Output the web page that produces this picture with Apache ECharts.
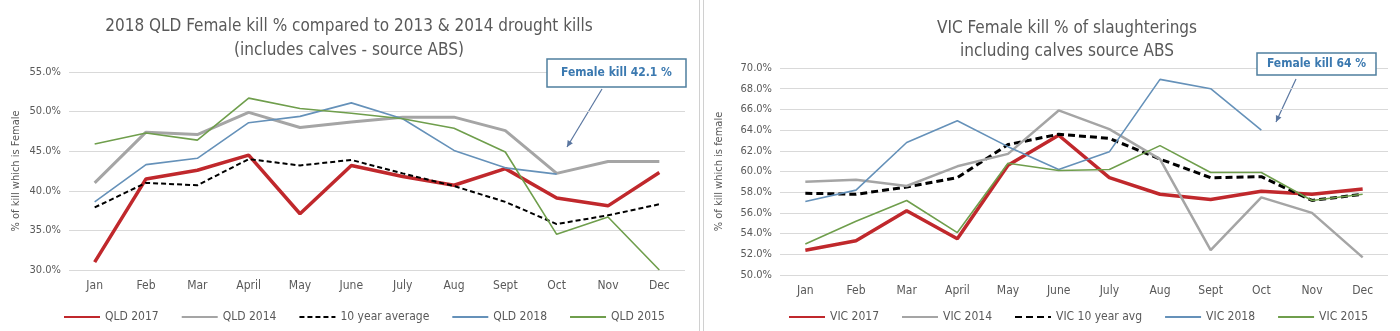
<!DOCTYPE html>
<html><head><meta charset="utf-8">
<script src="https://cdn.jsdelivr.net/npm/echarts@6/dist/echarts.min.js"></script>
<style>html,body{margin:0;padding:0;background:#fff}#c{width:1400px;height:331px}</style>
</head><body><div id="c"></div>
<script>
const months = ['Jan','Feb','Mar','April','May','June','July','Aug','Sept','Oct','Nov','Dec'];
// QLD chart
const qld2017 = [31.0,41.5,42.6,44.5,37.1,43.2,41.8,40.7,42.8,39.1,38.1,42.3];
const qld2014 = [41.0,47.4,47.1,49.9,48.0,48.7,49.3,49.3,47.6,42.2,43.7,43.7];
const qld10yr = [37.9,41.0,40.7,44.0,43.2,43.9,42.2,40.6,38.6,35.8,36.9,38.3];
const qld2018 = [38.6,43.3,44.1,48.6,49.4,51.1,49.1,45.1,42.9,42.1,null,null];
const qld2015 = [45.9,47.3,46.4,51.7,50.4,49.8,49.1,47.9,44.9,34.5,36.7,30.0];
// VIC chart
const vic2017 = [52.4,53.3,56.2,53.5,60.6,63.5,59.4,57.8,57.3,58.1,57.8,58.3];
const vic2014 = [59.0,59.2,58.6,60.5,61.7,65.9,64.1,61.2,52.4,57.5,56.0,51.7];
const vic10yr = [57.9,57.8,58.5,59.4,62.6,63.6,63.2,61.2,59.4,59.5,57.2,57.8];
const vic2018 = [57.1,58.2,62.8,64.9,62.4,60.2,61.9,68.9,68.0,64.0,null,null];
const vic2015 = [53.0,55.2,57.2,54.1,60.8,60.1,60.2,62.5,59.9,59.9,57.2,57.8];
const qldTitle = '2018 QLD Female kill % compared to 2013 & 2014 drought kills\n(includes calves - source ABS)';
const vicTitle = 'VIC Female kill % of slaughterings\nincluding calves source ABS';
const qldNote = 'Female kill 42.1 %';
const vicNote = 'Female kill 64 %';

const FONT = '"Liberation Sans Narrow","DejaVu Sans Condensed",sans-serif';
const TXT = '#595959';
const RED = '#c0282c', GRAY = '#a5a5a5', BLUE = '#6591b9', GREEN = '#6f9e4c', BLACK = '#000';

function mk(name, data, color, width, type, gi){
  return {name, type:'line', data, xAxisIndex:gi, yAxisIndex:gi, symbol:'none', showSymbol:false, connectNulls:false,
    lineStyle:{color, width, type: type||'solid'}, itemStyle:{color}, z: width>2.5?3:4,
    emphasis:{disabled:true}};
}
function xAx(gi){ return {type:'category', gridIndex:gi, data:months, boundaryGap:true,
  axisLine:{show:false}, axisTick:{show:false},
  axisLabel:{color:TXT, fontFamily:FONT, fontSize:12, margin:10}}; }
function yAx(gi, min, max, interval, name, gap){ return {type:'value', gridIndex:gi, min, max, interval,
  name, nameLocation:'middle', nameGap:gap, nameTextStyle:{color:TXT, fontFamily:FONT, fontSize:11},
  axisLabel:{color:TXT, fontFamily:FONT, fontSize:11, formatter:v=>v.toFixed(1)+'%'},
  splitLine:{lineStyle:{color:'#d9d9d9', width:1}}, axisLine:{show:false}, axisTick:{show:false}}; }

function arrow(x1,y1,x2,y2,color){
  const a = Math.atan2(y2-y1,x2-x1), L=7, w=0.45;
  return [
    {type:'line', shape:{x1,y1,x2,y2}, style:{stroke:color, lineWidth:1.2}},
    {type:'polygon', shape:{points:[[x2,y2],[x2-L*Math.cos(a-w),y2-L*Math.sin(a-w)],[x2-L*Math.cos(a+w),y2-L*Math.sin(a+w)]]}, style:{fill:color}}
  ];
}
function box(x,y,w,h,text){
  return [
    {type:'rect', shape:{x,y,width:w,height:h}, style:{fill:'#fff', stroke:'#4f7f9f', lineWidth:1.5}, z:10},
    {type:'text', x:x+w/2, y:y+h/2, z:11, style:{text, fill:'#3b79b0', font:'bold 12px '+FONT, align:'center', verticalAlign:'middle'}}
  ];
}
const legendBase = {top:306, itemWidth:36, itemHeight:14, itemGap:22, itemStyle:{opacity:0},
  textStyle:{color:TXT, fontFamily:FONT, fontSize:12}};

const chart = echarts.init(document.getElementById('c'), null, {renderer:'canvas'});
chart.setOption({
  animation:false,
  title:[
    {text:qldTitle, left:344, top:10, textAlign:'center', textStyle:{color:TXT, fontFamily:FONT, fontSize:17, fontWeight:'normal', lineHeight:24}},
    {text:vicTitle, left:1062, top:12, textAlign:'center', textStyle:{color:TXT, fontFamily:FONT, fontSize:17, fontWeight:'normal', lineHeight:23}}
  ],
  grid:[
    {left:69, top:72, width:616, height:198},
    {left:780, top:68, width:608, height:207}
  ],
  xAxis:[xAx(0), xAx(1)],
  yAxis:[yAx(0,30,55,5,'% of kill which is Female',47), yAx(1,50,70,2,'% of kill which is female',55)],
  legend:[
    Object.assign({}, legendBase, {data:['QLD 2017','QLD 2014','10 year average','QLD 2018','QLD 2015'], left:58}),
    Object.assign({}, legendBase, {data:['VIC 2017','VIC 2014','VIC 10 year avg','VIC 2018','VIC 2015'], left:783})
  ],
  series:[
    mk('QLD 2017', qld2017, RED, 3.5, 'solid', 0),
    mk('QLD 2014', qld2014, GRAY, 3, 'solid', 0),
    mk('10 year average', qld10yr, BLACK, 2, [5,3], 0),
    mk('QLD 2018', qld2018, BLUE, 1.6, 'solid', 0),
    mk('QLD 2015', qld2015, GREEN, 1.6, 'solid', 0),
    mk('VIC 2017', vic2017, RED, 3.5, 'solid', 1),
    mk('VIC 2014', vic2014, GRAY, 2.5, 'solid', 1),
    mk('VIC 10 year avg', vic10yr, BLACK, 3, [7,4], 1),
    mk('VIC 2018', vic2018, BLUE, 1.6, 'solid', 1),
    mk('VIC 2015', vic2015, GREEN, 1.6, 'solid', 1)
  ],
  graphic:[
    {type:'line', shape:{x1:699.5,y1:0,x2:699.5,y2:331}, style:{stroke:'#d0d0d0', lineWidth:1}},
    {type:'line', shape:{x1:703.5,y1:0,x2:703.5,y2:331}, style:{stroke:'#d0d0d0', lineWidth:1}},
    ...arrow(602,89,567,147,'#5a76a0'),
    ...arrow(1296,79,1276,122,'#5a76a0'),
    ...box(547,59,139,28,qldNote),
    ...box(1257,53,119,22,vicNote)
  ]
});
</script></body></html>
